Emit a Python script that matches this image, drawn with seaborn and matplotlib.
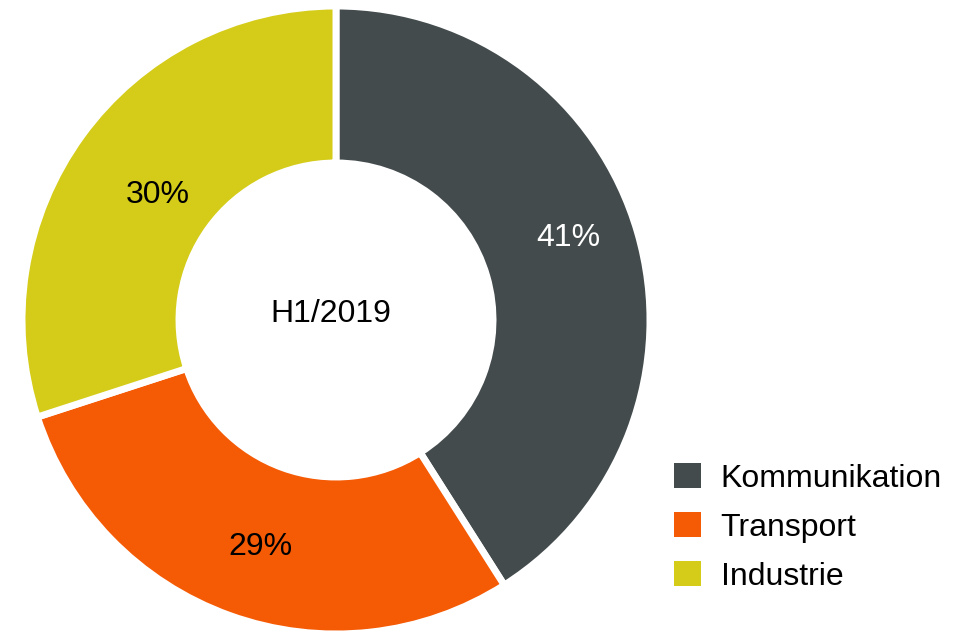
import numpy as np
import seaborn as sns
import matplotlib.pyplot as plt
from matplotlib.patches import Patch

# Data
categories = ["Kommunikation", "Transport", "Industrie"]
shares = [41, 29, 30]
center_label = "H1/2019"

colors = ["#434B4C", "#F55A05", "#D4CC19"]
label_colors = ["white", "black", "black"]
# per-label placement tweaks (radius fraction, angle shift in degrees)
label_radius = [0.79, 0.75, 0.70]
label_shift = [4, 1, 0]

sns.set_theme(style="white")
plt.rcParams["font.family"] = ["Liberation Sans", "DejaVu Sans"]
plt.rcParams["text.color"] = "black"

fig = plt.figure(figsize=(9.61, 6.32), dpi=100)
ax = fig.add_axes([22 / 961, (632 - 634) / 632, 628 / 961, 628 / 632])

wedges, texts, autotexts = ax.pie(
    shares,
    colors=colors,
    startangle=90,
    counterclock=False,
    radius=1.0,
    autopct="%d%%",
    pctdistance=0.77,
    wedgeprops=dict(width=0.50, edgecolor="white", linewidth=5),
    textprops=dict(fontsize=23),
)
for w, t, c, r, s in zip(wedges, autotexts, label_colors, label_radius, label_shift):
    ang = np.deg2rad((w.theta1 + w.theta2) / 2 + s)
    t.set_position((r * np.cos(ang), r * np.sin(ang) - 0.012))
    t.set_color(c)

ax.text(-0.015, 0.018, center_label, ha="center", va="center", fontsize=23, color="black")
ax.set_xlim(-1.0, 1.0)
ax.set_ylim(-1.0, 1.0)
ax.set_aspect("equal")
ax.axis("off")

handles = [Patch(facecolor=c, edgecolor="none") for c in colors]
fig.legend(
    handles, categories,
    loc="upper left",
    bbox_to_anchor=(661 / 961, 1 - 450 / 632),
    frameon=False,
    fontsize=23,
    labelcolor="black",
    handlelength=0.85,
    handleheight=0.85,
    handletextpad=0.62,
    labelspacing=0.57,
    borderaxespad=0,
)

fig.savefig("out.png", dpi=100)
